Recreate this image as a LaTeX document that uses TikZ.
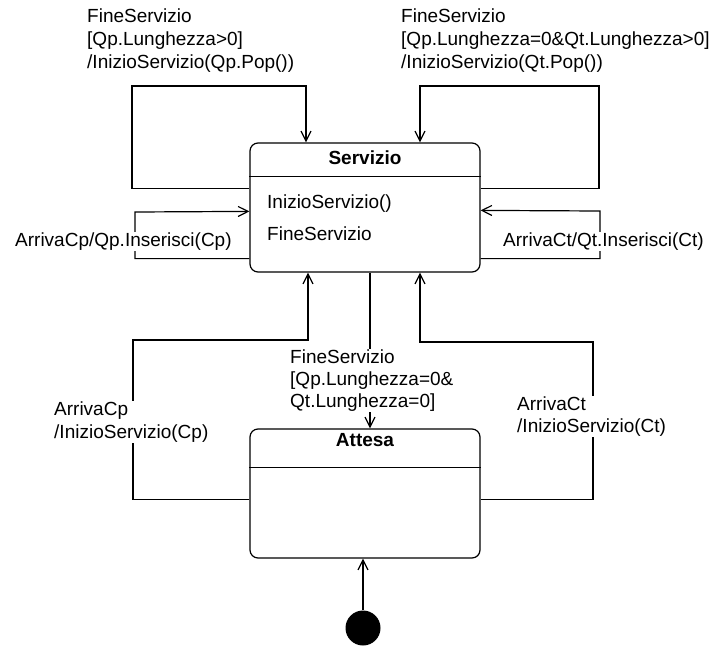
\documentclass[tikz,border=0pt]{standalone}
\usepackage{fontspec}
\setmainfont{Liberation Sans}
\usetikzlibrary{arrows.meta,calc}
\begin{document}
\begin{tikzpicture}[x=1pt,y=-1pt,
  every node/.style={font=\fontsize{19}{23}\selectfont},
  state/.style={draw, line width=1.2pt, rounded corners=8pt, minimum width=230pt, minimum height=129pt, inner sep=0pt},
  tr/.style={draw, line width=1.2pt, -{Straight Barb[length=10pt,width=10pt]}},
  sep/.style={draw, line width=1.2pt},
  lbl/.style={fill=white, inner sep=1pt, align=left},
  ttl/.style={font=\fontsize{19}{23}\selectfont\bfseries, inner sep=0pt},
  txt/.style={inner sep=0pt}]
\useasboundingbox (0,0) rectangle (714,645);

% states
\node[state] (serv) at (365,207.5) {};
\node[state] (att) at (365,493.5) {};
\node[circle, fill=black, minimum size=35pt, inner sep=0pt] (init) at (363,628) {};

\draw[sep] ($(serv.north west)+(0,34)$) -- ($(serv.north east)+(0,34)$);
\draw[sep] ($(att.north west)+(0,39)$) -- ($(att.north east)+(0,39)$);

\node[ttl, anchor=base] (servt) at (365,164.5) {Servizio};
\node[ttl, anchor=base] (attt) at (365,446.5) {Attesa};
\node[txt, anchor=base west] (act1) at (267,208.5) {InizioServizio()};
\node[txt, anchor=base west] (act2) at (267,240) {FineServizio};

% transitions
\draw[tr] ($(serv.north west)+(0,46)$) -| (132,86) -| ($(serv.north)+(-59,0)$);
\draw[tr] ($(serv.north east)+(0,46)$) -| (599,86) -| ($(serv.north)+(55,0)$);
\draw[tr] ($(serv.south west)+(0,-14)$) -| (135,212) -- ($(serv.north west)+(0,69)$);
\draw[tr] ($(serv.south east)+(0,-14)$) -| (600,211) -- ($(serv.north east)+(0,68)$);
\draw[tr] ($(att.north west)+(0,71)$) -| (133,340) -| ($(serv.south)+(-57,0)$);
\draw[tr] ($(att.north east)+(0,71)$) -| (593,342) -| ($(serv.south)+(55,0)$);
\draw[tr] ($(serv.south)+(5,0)$) -- ($(att.north)+(5,0)$);
\draw[tr] (init.north) -- (init.north |- att.south);

% labels (base anchor = baseline of last line)
\node[lbl, anchor=base west] (l1) at (86,68.7) {FineServizio\\{[}Qp.Lunghezza>0{]}\\/InizioServizio(Qp.Pop())};
\node[lbl, anchor=base west] (l2) at (400,68.7) {FineServizio\\{[}Qp.Lunghezza=0\&Qt.Lunghezza>0{]}\\/InizioServizio(Qt.Pop())};
\node[lbl, anchor=base west] (l3) at (14,246.5) {ArrivaCp/Qp.Inserisci(Cp)};
\node[lbl, anchor=base west] (l4) at (502,246.5) {ArrivaCt/Qt.Inserisci(Ct)};
\node[lbl, anchor=base west, font=\fontsize{19}{22}\selectfont] (l5) at (289,407.5) {FineServizio\\{[}Qp.Lunghezza=0\&\\Qt.Lunghezza=0{]}};
\node[lbl, anchor=base west] (l6) at (53,438.5) {ArrivaCp\\/InizioServizio(Cp)};
\node[lbl, anchor=base west, font=\fontsize{19}{21.5}\selectfont] (l7) at (516,432) {ArrivaCt\\/InizioServizio(Ct)};
\end{tikzpicture}
\end{document}
